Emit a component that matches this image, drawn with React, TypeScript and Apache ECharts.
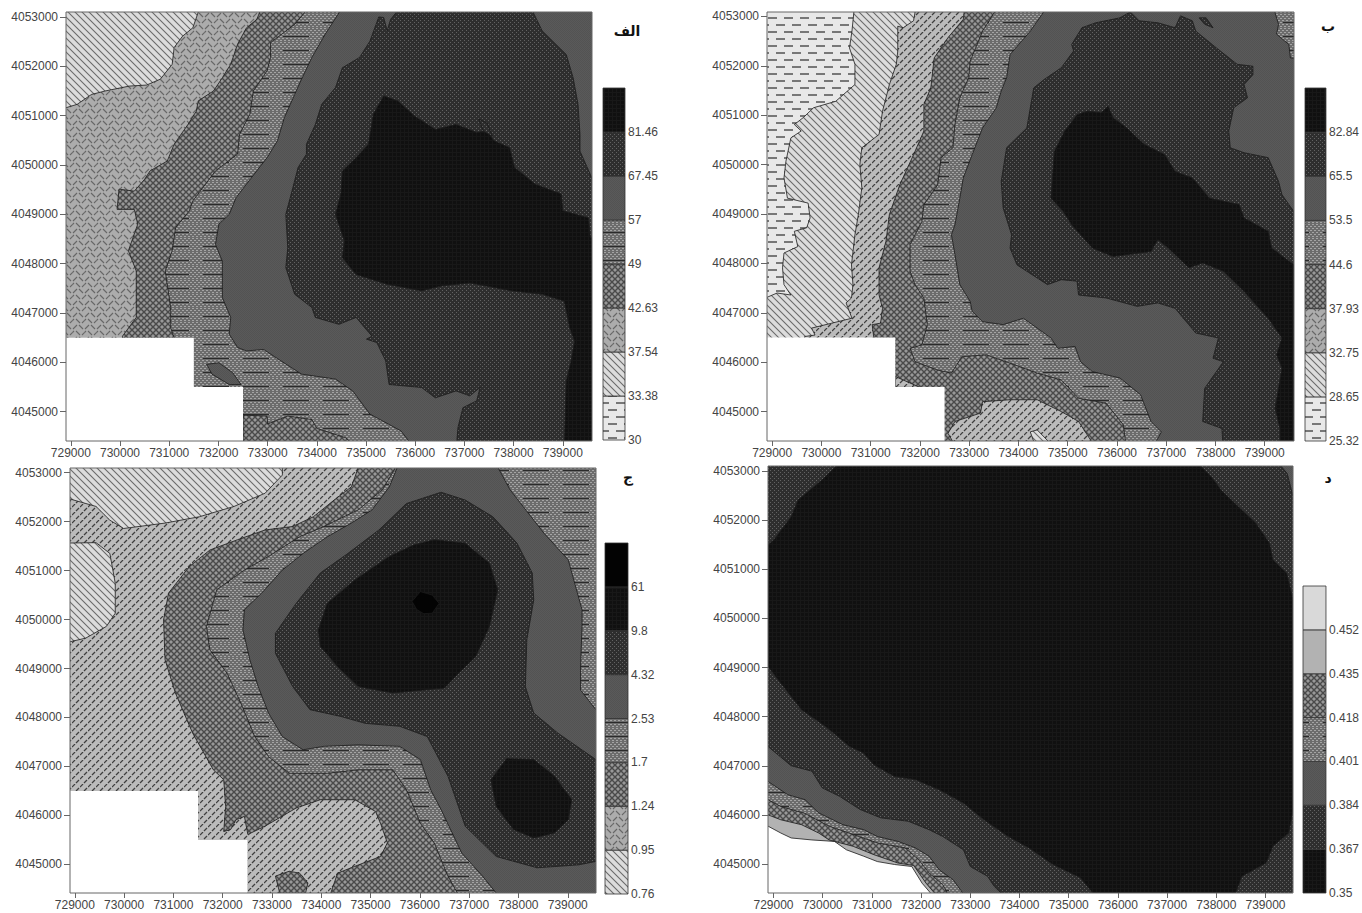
import React, { useEffect, useRef } from "react";
import * as echarts from "echarts";

// Eastings and northings of the maps' contour lines, in km from (729000, 4045000).
const E0 = 729000;
const N0 = 4045000;
const xTicks = [729000, 730000, 731000, 732000, 733000, 734000, 735000, 736000, 737000, 738000, 739000];
const yTicks = [4045000, 4046000, 4047000, 4048000, 4049000, 4050000, 4051000, 4052000, 4053000];

const ALL = [-0.3, -0.8, 10.8, -0.8, 10.8, 8.3, -0.3, 8.3];
const NO_DATA = [-0.3, 1.5, 2.5, 1.5, 2.5, 0.5, 3.5, 0.5, 3.5, -0.8, -0.3, -0.8];

// Map A
const A_HERR = [-0.3, 6.1, -0.1, 6.16, 0.13, 6.23, 0.42, 6.43, 0.7, 6.5, 1.19, 6.6, 1.54, 6.62, 1.82, 6.74, 2.06, 7.04, 2.1, 7.38, 2.27, 7.61, 2.48, 7.78, 2.66, 8.3, 10.8, 8.3, 10.8, -0.8, -0.3, -0.8];
const A_CROSS = [3.92, 8.3, 3.78, 7.95, 3.57, 7.78, 3.39, 7.45, 3.25, 7.04, 3.08, 6.77, 2.9, 6.5, 2.59, 6.3, 2.55, 6.09, 2.38, 5.82, 2.1, 5.42, 1.96, 5.08, 1.61, 4.88, 1.5, 4.71, 1.29, 4.47, 0.98, 4.51, 0.94, 4.1, 1.29, 4.1, 1.36, 3.8, 1.17, 3.26, 1.33, 2.85, 1.33, 1.91, 1.05, 1.53, 1.05, -0.8, 10.8, -0.8, 10.8, 8.3];
const A_DD = [4.93, 8.3, 4.55, 7.85, 4.06, 7.48, 4.06, 7.18, 3.99, 6.91, 3.71, 6.5, 3.64, 6.03, 3.43, 5.62, 3.39, 5.22, 2.94, 4.88, 2.48, 4.27, 2.41, 4.07, 2.13, 3.73, 2.06, 3.26, 1.92, 2.85, 2.03, 2.11, 2.03, 1.7, 2.1, 1.5, 2.1, -0.8, 10.8, -0.8, 10.8, 8.3];
const A_CROSS2 = [3.5, -0.07, 3.99, -0.09, 4.0, -0.25, 4.41, -0.09, 4.9, -0.16, 5.0, -0.34, 5.59, -0.53, 5.87, -0.8, 3.5, -0.8];
const A_SOLID = [5.59, 8.3, 5.17, 7.65, 4.9, 7.18, 4.69, 6.74, 4.55, 6.43, 4.34, 5.96, 4.2, 5.49, 3.99, 5.15, 3.67, 4.74, 3.36, 4.34, 3.22, 4.0, 3.01, 3.8, 2.94, 3.39, 3.08, 3.05, 3.08, 2.31, 3.25, 1.91, 3.22, 1.57, 3.39, 1.3, 3.57, 1.23, 3.92, 1.26, 4.27, 1.03, 4.69, 0.76, 5.38, 0.66, 5.73, 0.42, 6.08, -0.05, 6.71, -0.39, 7.03, -0.8, 10.8, -0.8, 10.8, 8.3];
const A_SOLID2 = [2.76, 0.96, 3.01, 0.99, 3.29, 0.79, 3.46, 0.55, 3.22, 0.55, 2.87, 0.76];
const A_DOTS = [6.26, 8.0, 6.08, 7.51, 5.87, 7.18, 5.52, 6.97, 5.38, 6.57, 5.1, 6.23, 4.97, 5.82, 4.79, 5.42, 4.79, 5.22, 4.62, 4.95, 4.48, 4.41, 4.37, 4.0, 4.41, 3.32, 4.37, 2.92, 4.55, 2.38, 4.9, 2.11, 4.97, 1.91, 5.45, 1.77, 5.8, 1.91, 6.12, 1.53, 6.01, 1.47, 6.22, 1.4, 6.4, 1.03, 6.47, 0.55, 7.13, 0.49, 7.41, 0.28, 7.83, 0.42, 8.11, 0.32, 8.32, 0.49, 8.25, 0.22, 7.97, 0.08, 7.87, -0.32, 7.83, -0.8, 10.8, -0.8, 10.8, 4.74, 10.59, 4.74, 10.35, 5.28, 10.35, 5.62, 10.31, 6.23, 10.21, 6.77, 10.07, 7.24, 9.58, 7.72, 9.3, 8.3, 6.78, 8.3, 6.5, 7.95, 6.43, 7.72, 6.36, 7.99];
const A_DARK = [6.36, 6.4, 6.15, 6.03, 6.05, 5.42, 5.8, 5.15, 5.52, 4.88, 5.49, 4.41, 5.38, 4.0, 5.56, 3.46, 5.52, 3.12, 5.8, 2.78, 6.43, 2.58, 7.13, 2.45, 7.55, 2.55, 8.11, 2.61, 8.95, 2.45, 9.58, 2.38, 10.03, 2.24, 10.14, 1.7, 10.24, 1.43, 10.17, 1.03, 10.07, 0.62, 10.03, -0.8, 10.8, -0.8, 10.8, 3.53, 10.56, 3.53, 10.52, 3.93, 10.0, 4.07, 9.97, 4.41, 9.44, 4.61, 9.02, 4.95, 8.92, 5.35, 8.6, 5.49, 8.46, 5.69, 8.25, 5.66, 7.83, 5.82, 7.41, 5.72, 6.99, 5.99, 6.64, 6.3];
const A_DOTS2 = [8.29, 5.93, 8.46, 5.85, 8.57, 5.58, 8.39, 5.68];

// Map B
const B_DIAG = [1.68, 8.3, 1.62, 7.7, 1.57, 7.36, 1.68, 7.03, 1.68, 6.62, 1.29, 6.28, 0.84, 6.15, 0.63, 5.95, 0.45, 5.81, 0.59, 5.68, 0.38, 5.54, 0.28, 5.07, 0.24, 4.73, 0.31, 4.32, 0.73, 4.22, 0.77, 3.92, 0.7, 3.72, 0.45, 3.65, 0.52, 3.34, 0.24, 3.21, 0.21, 2.91, 0.24, 2.57, 0.38, 2.36, 0.1, 2.4, -0.3, 2.23, -0.3, -0.8, 10.8, -0.8, 10.8, 8.3];
const B_HD = [2.94, 8.3, 2.87, 7.91, 2.66, 7.77, 2.55, 7.8, 2.55, 7.3, 2.52, 7.03, 2.38, 6.62, 2.24, 6.08, 2.17, 5.61, 1.82, 5.34, 1.78, 5.0, 1.82, 4.53, 1.75, 3.99, 1.68, 3.58, 1.61, 2.97, 1.64, 2.57, 1.61, 2.3, 1.5, 2.2, 1.62, 1.89, 0.8, 1.69, 0.87, 1.55, 0.66, 1.52, 0.66, -0.8, 10.8, -0.8, 10.8, 8.3];
const B_CROSS = [3.92, 8.3, 3.88, 7.94, 3.57, 7.57, 3.29, 7.16, 3.22, 6.55, 3.08, 6.22, 3.08, 5.68, 2.87, 5.2, 2.59, 4.59, 2.38, 3.99, 2.31, 3.45, 2.17, 2.91, 2.17, 2.36, 2.24, 2.09, 2.2, 1.79, 2.03, 1.76, 2.06, 1.52, 2.06, -0.8, 10.8, -0.8, 10.8, 8.3];
const B_HD2 = [3.57, -0.44, 3.71, -0.2, 4.23, -0.03, 4.27, 0.2, 4.83, 0.24, 5.38, 0.24, 5.87, 0.0, 6.22, -0.2, 6.61, -0.8, 3.78, -0.8];
const B_HD3 = [2.5, 0.71, 3.0, 0.49, 2.5, 0.49];
const B_DIAG2 = [5.24, -0.41, 5.38, -0.37, 5.8, -0.8, 5.38, -0.8];
const B_DD = [4.65, 8.3, 4.27, 7.7, 4.02, 7.09, 3.99, 6.76, 3.81, 6.35, 3.71, 5.81, 3.67, 5.34, 3.43, 5.14, 3.36, 4.59, 3.08, 4.19, 3.04, 3.85, 2.8, 3.38, 2.8, 2.84, 2.9, 2.57, 3.08, 2.3, 3.15, 1.76, 3.04, 1.35, 2.8, 1.28, 2.9, 1.01, 3.36, 0.84, 3.64, 0.78, 3.85, 1.11, 4.34, 1.15, 4.83, 0.98, 5.38, 0.78, 5.87, 0.64, 6.22, 0.27, 6.78, 0.17, 7.13, -0.27, 7.2, -0.8, 10.8, -0.8, 10.8, 8.3];
const B_SOLID = [5.66, 8.3, 5.24, 7.7, 4.83, 7.23, 4.76, 6.76, 4.65, 6.49, 4.55, 6.15, 4.27, 5.74, 4.06, 5.2, 3.88, 4.73, 3.81, 4.32, 3.71, 3.78, 3.64, 3.58, 3.71, 3.18, 3.81, 2.57, 4.02, 2.23, 4.06, 2.03, 4.27, 1.82, 4.69, 1.76, 5.1, 1.89, 5.38, 1.69, 5.66, 1.49, 5.8, 1.28, 6.15, 1.32, 6.26, 1.01, 6.5, 0.81, 7.06, 0.68, 7.48, 0.34, 7.69, -0.2, 7.9, -0.41, 7.69, -0.8, 10.8, -0.8, 10.8, 8.3];
const B_DD2 = [10.14, 8.3, 10.28, 7.84, 10.24, 7.64, 10.49, 7.43, 10.52, 7.16, 10.8, 7.13, 10.8, 8.3];
const B_DOTS = [6.29, 7.77, 6.57, 7.87, 7.06, 7.97, 7.27, 8.09, 7.45, 7.91, 7.83, 7.87, 8.18, 7.77, 8.29, 8.01, 8.53, 7.91, 8.6, 7.7, 9.02, 7.36, 9.44, 7.03, 9.76, 6.99, 9.76, 6.82, 9.58, 6.62, 9.65, 6.35, 9.37, 6.15, 9.27, 5.68, 9.3, 5.34, 9.58, 5.24, 10.07, 5.14, 10.28, 4.66, 10.35, 4.39, 10.59, 4.05, 10.8, 4.05, 10.8, -0.8, 9.16, -0.8, 9.13, -0.34, 8.74, -0.2, 8.78, 0.47, 9.16, 1.01, 8.95, 1.08, 9.06, 1.49, 8.6, 1.59, 8.18, 2.09, 7.83, 2.2, 7.41, 2.13, 6.78, 2.3, 6.22, 2.36, 6.19, 2.64, 5.87, 2.67, 5.59, 2.57, 4.97, 2.97, 4.83, 3.31, 4.86, 3.58, 4.69, 4.12, 4.65, 4.66, 4.76, 5.34, 5.17, 5.74, 5.31, 6.55, 5.52, 6.72, 5.87, 6.96, 6.12, 7.3, 6.08, 7.43];
const B_DOTS2 = [8.67, 7.97, 8.81, 7.97, 8.95, 7.77, 8.78, 7.84];
const B_DARK = [6.19, 6.01, 6.4, 6.08, 6.68, 6.05, 6.82, 6.18, 6.92, 5.95, 7.2, 5.74, 7.55, 5.41, 7.97, 5.2, 8.18, 4.86, 8.53, 4.73, 8.88, 4.32, 9.48, 4.19, 9.58, 3.92, 10.07, 3.65, 10.14, 3.31, 10.59, 2.97, 10.8, 2.97, 10.8, -0.8, 10.31, -0.8, 10.31, -0.34, 10.21, 0.07, 10.35, 0.88, 10.24, 1.15, 10.35, 1.49, 10.07, 1.89, 9.58, 2.43, 9.16, 2.84, 8.74, 3.01, 8.46, 2.91, 8.04, 3.31, 7.83, 3.48, 7.69, 3.24, 6.92, 3.14, 6.5, 3.31, 6.08, 3.78, 5.91, 4.05, 5.66, 4.32, 5.73, 5.27, 5.94, 5.68];

// Map C
const C_DIAG = [-0.3, 8.3, 4.21, 8.3, 4.21, 7.95, 3.86, 7.58, 3.23, 7.31, 2.53, 7.1, 1.83, 6.97, 0.99, 6.86, 0.71, 7.03, 0.43, 7.31, -0.3, 7.52];
const C_DIAG2 = [-0.3, 6.56, 0.43, 6.57, 0.71, 6.35, 0.82, 5.74, 0.82, 5.13, 0.64, 4.86, 0.22, 4.62, -0.3, 4.5];
const C_CROSS = [5.82, 8.3, 5.61, 7.71, 5.26, 7.44, 4.84, 7.1, 4.42, 6.9, 3.86, 6.83, 3.3, 6.63, 2.74, 6.42, 2.32, 6.08, 1.9, 5.54, 1.8, 4.99, 1.83, 4.18, 2.04, 3.5, 2.39, 2.68, 2.81, 1.93, 3.02, 1.73, 3.06, 1.18, 3.02, 0.67, 3.16, 0.71, 3.27, 0.91, 3.44, 0.98, 3.51, 0.61, 3.86, 0.78, 4.49, 1.15, 4.98, 1.32, 5.68, 1.32, 6.1, 1.08, 6.2, 0.84, 6.34, 0.44, 6.2, 0.16, 5.68, -0.04, 5.33, -0.18, 5.12, -0.8, 10.8, -0.8, 10.8, 8.3];
const C_CROSS2 = [4.07, -0.24, 4.35, -0.14, 4.56, -0.18, 4.73, -0.38, 4.63, -0.8, 4.21, -0.8];
const C_DD = [6.62, 8.3, 6.24, 7.65, 5.75, 7.24, 5.05, 6.9, 4.56, 6.69, 3.93, 6.29, 3.44, 6.01, 2.88, 5.61, 2.67, 4.86, 2.74, 4.38, 3.09, 3.9, 3.37, 3.29, 3.65, 2.61, 3.93, 2.2, 4.35, 1.86, 5.12, 1.86, 5.75, 1.93, 6.45, 1.93, 6.73, 1.52, 7.01, 0.84, 7.29, 0.44, 7.57, -0.24, 7.88, -0.8, 10.8, -0.8, 10.8, 8.3];
const C_SOLID = [6.62, 8.3, 6.38, 7.71, 6.03, 7.24, 5.61, 6.97, 5.12, 6.69, 4.63, 6.35, 4.21, 6.01, 3.79, 5.54, 3.44, 5.2, 3.41, 4.79, 3.55, 4.18, 3.72, 3.63, 3.93, 3.09, 4.21, 2.61, 4.63, 2.34, 5.05, 2.41, 5.75, 2.44, 6.59, 2.41, 7.01, 2.14, 7.22, 1.52, 7.43, 1.12, 7.85, 0.23, 8.27, -0.24, 8.72, -0.8, 10.8, -0.8, 10.8, 3.16, 10.57, 3.16, 10.26, 3.56, 10.26, 4.04, 10.29, 4.86, 10.29, 5.2, 10.01, 6.22, 9.52, 6.76, 8.83, 7.65, 8.48, 8.3];
const C_DOTS = [7.43, 7.6, 7.92, 7.44, 8.48, 7.1, 8.97, 6.56, 9.28, 5.95, 9.31, 5.4, 9.17, 4.59, 9.14, 3.63, 9.31, 3.09, 9.8, 2.68, 10.57, 2.14, 10.8, 2.14, 10.8, 0.06, 10.57, 0.06, 10.22, -0.01, 9.38, -0.07, 8.55, 0.16, 7.92, 0.78, 7.57, 1.8, 7.15, 2.61, 6.59, 2.82, 5.89, 2.88, 5.4, 3.02, 4.77, 3.16, 4.42, 3.63, 4.07, 4.31, 4.07, 4.72, 4.49, 5.33, 4.98, 5.95, 5.54, 6.35, 6.17, 6.83, 6.73, 7.37];
const C_DARK = [7.29, 6.63, 7.92, 6.56, 8.41, 6.15, 8.58, 5.61, 8.41, 4.86, 8.13, 4.24, 7.78, 3.9, 7.5, 3.6, 6.45, 3.5, 5.75, 3.63, 5.33, 4.04, 4.98, 4.45, 4.94, 4.79, 5.12, 5.33, 5.68, 5.81, 6.38, 6.29, 6.87, 6.52];
const C_DARK2 = [8.76, 2.16, 9.31, 2.14, 9.73, 1.8, 10.08, 1.32, 10.01, 0.91, 9.73, 0.64, 9.31, 0.54, 8.9, 0.71, 8.55, 1.18, 8.44, 1.73];
const C_BLACK = [7.01, 5.57, 7.25, 5.5, 7.39, 5.33, 7.25, 5.13, 7.08, 5.12, 6.94, 5.2, 6.84, 5.37];

// Map D
const D_MID = [-0.3, 0.9, -0.11, 0.77, 0.15, 0.63, 0.36, 0.53, 0.78, 0.49, 1.24, 0.46, 1.48, 0.29, 1.83, 0.16, 2.11, 0.05, 2.46, -0.01, 2.81, -0.05, 3.02, -0.39, 3.37, -0.8, 10.8, -0.8, 10.8, 8.3, -0.3, 8.3];
const D_CROSS = [-0.3, 1.1, -0.11, 1.0, 0.15, 0.9, 0.57, 0.8, 0.92, 0.63, 1.13, 0.49, 1.62, 0.36, 2.04, 0.19, 2.53, 0.02, 2.85, -0.03, 3.1, -0.39, 3.45, -0.8, 10.8, -0.8, 10.8, 8.3, -0.3, 8.3];
const D_DD = [-0.3, 1.4, -0.11, 1.31, 0.15, 1.17, 0.64, 1.03, 1.13, 0.77, 1.62, 0.6, 2.11, 0.43, 2.67, 0.33, 2.95, 0.09, 3.16, -0.18, 3.44, -0.42, 3.65, -0.8, 10.8, -0.8, 10.8, 8.3, -0.3, 8.3];
const D_SOLID = [-0.3, 1.8, -0.11, 1.68, 0.29, 1.41, 0.64, 1.31, 0.92, 1.04, 1.41, 0.8, 1.83, 0.7, 2.11, 0.56, 2.53, 0.46, 2.88, 0.33, 3.16, 0.16, 3.37, -0.12, 3.65, -0.32, 4.0, -0.8, 10.8, -0.8, 10.8, 8.3, -0.3, 8.3];
const D_DOTS = [-0.3, 2.5, -0.11, 2.39, 0.36, 2.0, 0.78, 1.89, 0.99, 1.55, 1.34, 1.38, 1.76, 1.11, 2.18, 0.94, 2.74, 0.87, 3.16, 0.7, 3.44, 0.56, 3.86, 0.29, 4.0, -0.05, 4.35, -0.25, 4.49, -0.46, 4.84, -0.8, 10.8, -0.8, 10.8, 8.3, -0.3, 8.3];
const D_SOLID2 = [10.15, 8.3, 10.44, 7.95, 10.56, 7.48, 10.8, 7.3, 10.8, 8.3];
const D_DARK = [-0.3, 4.1, -0.11, 4.02, 0.15, 3.68, 0.57, 3.14, 1.06, 2.8, 1.55, 2.39, 1.83, 2.26, 2.04, 2.02, 2.46, 1.78, 2.88, 1.72, 3.37, 1.51, 3.86, 1.24, 4.28, 0.9, 4.77, 0.56, 5.19, 0.33, 5.68, -0.01, 6.24, -0.28, 6.66, -0.8, 9.31, -0.8, 9.52, -0.25, 10.01, 0.02, 10.15, 0.36, 10.47, 0.63, 10.56, 1.11, 10.56, 5.38, 10.43, 5.92, 10.15, 6.19, 10.08, 6.53, 9.8, 6.94, 9.45, 7.27, 9.1, 7.61, 8.9, 7.88, 8.48, 8.3, 1.48, 8.3, 0.99, 7.82, 0.5, 7.41, 0.36, 7.07, 0.01, 6.6, -0.3, 6.33];

// Legend classes, lowest first
const legendA = ["30", "33.38", "37.54", "42.63", "49", "57", "67.45", "81.46"];
const legendB = ["25.32", "28.65", "32.75", "37.93", "44.6", "53.5", "65.5", "82.84"];
const legendC = ["0.76", "0.95", "1.24", "1.7", "2.53", "4.32", "9.8", "61"];
const legendD = ["0.35", "0.367", "0.384", "0.401", "0.418", "0.435", "0.452"];
const fillsAB = ["dash", "diag", "herr", "cross", "dd", "solid", "dots", "dark"];
const fillsC = ["diag", "herr", "cross", "dd", "solid", "dots", "dark", "black"];
const fillsD = ["dark", "dots", "solid", "dd", "cross", "mid", "light"];

const panels = [
  {
    title: "الف", tx: 627, ty: 24,
    box: [66, 12, 592, 441], x: [728902, 739594], y: [4044405, 4053101],
    lg: [603, 88, 625, 440], labels: legendA, fills: fillsAB,
    regions: [["diag", ALL], ["herr", A_HERR], ["cross", A_CROSS], ["dd", A_DD], ["cross", A_CROSS2], ["solid", A_SOLID], ["solid", A_SOLID2], ["dots", A_DOTS], ["dark", A_DARK], ["dots", A_DOTS2], ["white", NO_DATA]],
  },
  {
    title: "ب", tx: 1328, ty: 19,
    box: [767, 12, 1294, 441], x: [728895, 739594], y: [4044405, 4053088],
    lg: [1305, 88, 1327, 441], labels: legendB, fills: fillsAB,
    regions: [["dash", ALL], ["diag", B_DIAG], ["hd", B_HD], ["cross", B_CROSS], ["hd", B_HD2], ["hd", B_HD3], ["diag", B_DIAG2], ["dd", B_DD], ["solid", B_SOLID], ["dd", B_DD2], ["dots", B_DOTS], ["dots", B_DOTS2], ["dark", B_DARK], ["white", NO_DATA]],
  },
  {
    title: "ج", tx: 628, ty: 470,
    box: [70, 468, 596, 893], x: [728902, 739573], y: [4044415, 4053095],
    lg: [605, 543, 628, 894], labels: legendC, fills: fillsC,
    regions: [["hd", ALL], ["diag", C_DIAG], ["diag", C_DIAG2], ["cross", C_CROSS], ["cross", C_CROSS2], ["dd", C_DD], ["solid", C_SOLID], ["dots", C_DOTS], ["dark", C_DARK], ["dark", C_DARK2], ["black", C_BLACK], ["white", NO_DATA]],
  },
  {
    title: "د", tx: 1328, ty: 471,
    box: [768, 466, 1293, 893], x: [728888, 739559], y: [4044410, 4053102],
    lg: [1303, 586, 1326, 893], labels: legendD, fills: fillsD,
    regions: [["white", ALL], ["mid", D_MID], ["cross", D_CROSS], ["dd", D_DD], ["solid", D_SOLID], ["dots", D_DOTS], ["solid", D_SOLID2], ["dark", D_DARK]],
  },
];

function tile(w: number, h: number, bg: string, draw: (c: CanvasRenderingContext2D) => void) {
  const canvas = document.createElement("canvas");
  canvas.width = w;
  canvas.height = h;
  const c = canvas.getContext("2d") as CanvasRenderingContext2D;
  c.fillStyle = bg;
  c.fillRect(0, 0, w, h);
  draw(c);
  return { image: canvas, repeat: "repeat", imageWidth: w, imageHeight: h };
}

function strokes(c: CanvasRenderingContext2D, color: string, width: number, segs: number[][]) {
  c.strokeStyle = color;
  c.lineWidth = width;
  segs.forEach((s) => {
    c.beginPath();
    c.moveTo(s[0], s[1]);
    c.lineTo(s[2], s[3]);
    c.stroke();
  });
}

function makeFills(): Record<string, any> {
  return {
    white: "#ffffff",
    light: "#d9d9d9",
    mid: "#b2b2b2",
    black: "#030303",
    dash: tile(16, 14, "#e8e8e8", (c) => {
      c.fillStyle = "#777777";
      c.fillRect(0, 3, 9, 2);
      c.fillRect(8, 10, 8, 2);
      c.fillRect(0, 10, 1, 2);
    }),
    diag: tile(7, 7, "#dcdcdc", (c) => strokes(c, "#6a6a6a", 1.1, [[-1, -1, 8, 8], [-1, 6, 1, 8], [6, -1, 8, 1]])),
    herr: tile(12, 12, "#acacac", (c) =>
      strokes(c, "#666666", 1.1, [[1, 5, 5, 1], [7, 1, 11, 5], [4, 7, 8, 11], [-2, 11, 2, 7], [10, 11, 14, 7]])
    ),
    hd: tile(8, 8, "#bbbbbb", (c) => strokes(c, "#3e3e3e", 1.2, [[0, 3, 3, 0], [4, 7, 7, 4]])),
    cross: tile(6, 6, "#989898", (c) => strokes(c, "#4a4a4a", 1.4, [[0, 0, 6, 6], [0, 6, 6, 0]])),
    dd: tile(40, 14, "#6c6c6c", (c) => {
      c.fillStyle = "#a4a4a4";
      for (let y = 0; y < 14; y += 2) {
        for (let x = (y / 2) % 2 ? 2 : 0; x < 40; x += 4) c.fillRect(x, y, 2, 1);
      }
      c.fillStyle = "#2a2a2a";
      c.fillRect(3, 8, 26, 1);
    }),
    solid: tile(2, 2, "#5a5a5a", (c) => {
      c.fillStyle = "#535353";
      c.fillRect(0, 0, 1, 1);
      c.fillRect(1, 1, 1, 1);
    }),
    dots: tile(4, 4, "#2e2e2e", (c) => {
      c.fillStyle = "#626262";
      c.fillRect(0, 0, 1, 1);
      c.fillRect(2, 2, 1, 1);
    }),
    dark: tile(4, 4, "#101010", (c) => {
      c.fillStyle = "#181818";
      c.fillRect(0, 0, 4, 1);
      c.fillRect(0, 0, 1, 4);
    }),
  };
}

const FONT = "Liberation Sans";
const INK = "#444444";

function buildOption(fills: Record<string, any>) {
  const grid: any[] = [];
  const xAxis: any[] = [];
  const yAxis: any[] = [];
  const series: any[] = [];
  const title: any[] = [];
  panels.forEach((p) => {
    const i = grid.length;
    const [l, t, r, b] = p.box;
    grid.push({ show: true, z: 5, left: l, top: t, width: r - l, height: b - t, borderColor: "#666666", borderWidth: 1, backgroundColor: "transparent" });
    xAxis.push({
      type: "value", gridIndex: i, min: p.x[0], max: p.x[1], z: 6,
      axisLine: { show: false }, splitLine: { show: false },
      axisTick: { show: true, length: 5, customValues: xTicks, lineStyle: { color: "#666666" } },
      axisLabel: { customValues: xTicks, margin: 6, color: INK, fontFamily: FONT, fontSize: 12, formatter: (v: number) => String(v) },
    });
    yAxis.push({
      type: "value", gridIndex: i, min: p.y[0], max: p.y[1], z: 6,
      axisLine: { show: false }, splitLine: { show: false },
      axisTick: { show: true, length: 6, customValues: yTicks, lineStyle: { color: "#666666" } },
      axisLabel: { customValues: yTicks, margin: 8, color: INK, fontFamily: FONT, fontSize: 12, formatter: (v: number) => String(v) },
    });
    series.push({
      type: "custom", coordinateSystem: "cartesian2d", xAxisIndex: i, yAxisIndex: i, clip: true, z: 2, silent: true,
      data: p.regions.map((_, k) => [k]),
      renderItem: (_: any, api: any) => {
        const [name, pts] = p.regions[api.value(0)] as [string, number[]];
        const points: number[][] = [];
        for (let k = 0; k < pts.length; k += 2) points.push(api.coord([E0 + pts[k] * 1000, N0 + pts[k + 1] * 1000]));
        return {
          type: "polygon", shape: { points },
          style: { fill: fills[name], stroke: name === "white" ? "none" : "#1a1a1a", lineWidth: 0.8 },
        };
      },
    });

    const li = grid.length;
    const [ll, lt, lr, lb] = p.lg;
    grid.push({ show: false, left: ll, top: lt, width: lr - ll, height: lb - lt });
    const idx = p.labels.map((_, k) => k);
    xAxis.push({ type: "value", gridIndex: li, min: 0, max: 1, show: false });
    yAxis.push({
      type: "value", gridIndex: li, min: 0, max: p.labels.length, position: "right",
      axisLine: { show: false }, axisTick: { show: false }, splitLine: { show: false },
      axisLabel: { customValues: idx, margin: 3, color: INK, fontFamily: FONT, fontSize: 12, formatter: (v: number) => p.labels[v] },
    });
    series.push({
      type: "custom", coordinateSystem: "cartesian2d", xAxisIndex: li, yAxisIndex: li, z: 2, silent: true,
      data: idx.map((k) => [k]),
      renderItem: (_: any, api: any) => {
        const k = api.value(0);
        const a = api.coord([0, k + 1]);
        const c = api.coord([1, k]);
        return {
          type: "rect", shape: { x: a[0], y: a[1], width: c[0] - a[0], height: c[1] - a[1] },
          style: { fill: fills[p.fills[k]], stroke: "#333333", lineWidth: 0.8 },
        };
      },
    });
    title.push({
      text: p.title, left: p.tx, top: p.ty, padding: 0, textAlign: "center",
      textStyle: { fontFamily: "DejaVu Sans", fontWeight: "bold", fontSize: 14, color: "#111111" },
    });
  });
  return { animation: false, backgroundColor: "#ffffff", title, grid, xAxis, yAxis, series };
}

export default function App() {
  const ref = useRef<HTMLDivElement>(null);
  useEffect(() => {
    document.body.style.margin = "0";
    const chart = echarts.init(ref.current as HTMLDivElement, undefined, { renderer: "svg" });
    chart.setOption(buildOption(makeFills()));
    return () => chart.dispose();
  }, []);
  return <div ref={ref} style={{ width: 1362, height: 913, display: "block" }} />;
}
